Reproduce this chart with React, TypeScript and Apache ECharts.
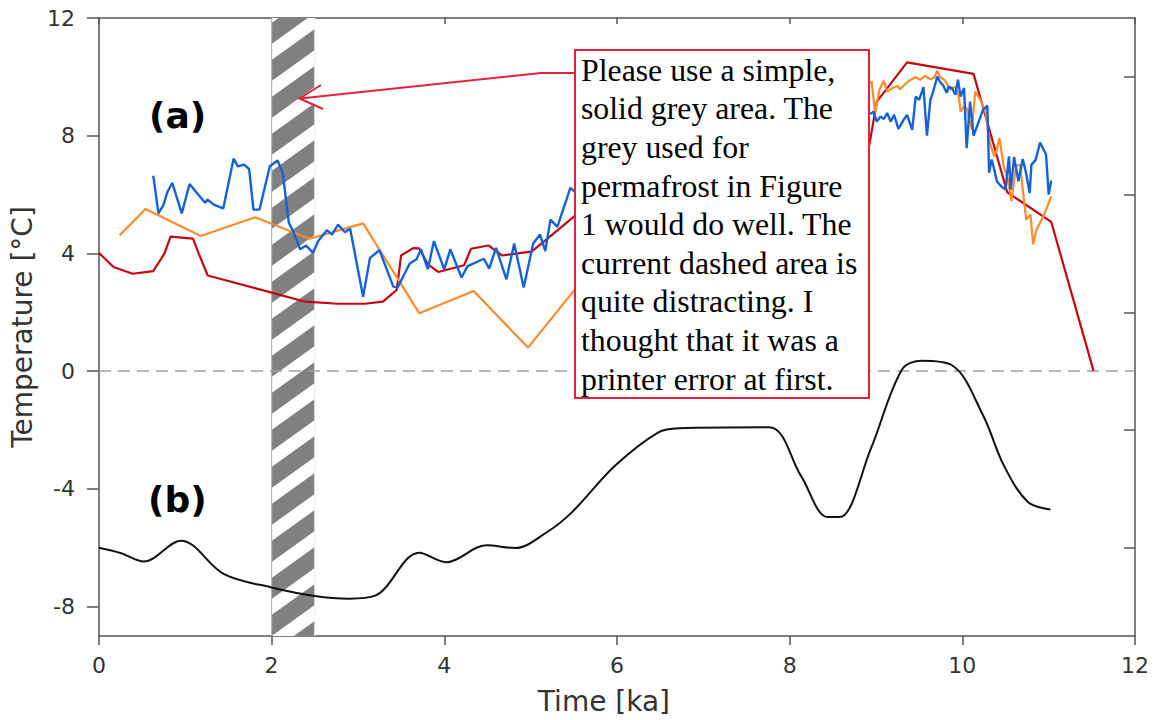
import React, { useEffect, useRef } from "react";
import * as echarts from "echarts";

// ---------------- data ----------------
const xMin = 0;
const xMax = 12;
const yMin = -9;
const yMax = 12;
const xTickValues = [0, 2, 4, 6, 8, 10, 12];
const yLeftTickValues = [-8, -4, 0, 4, 8, 12];
const yRightTickValues = [-6, -2, 2, 6, 10];
const bandStart = 2;
const bandEnd = 2.5;

const blueData: [number, number][] = [
  [0.63, 6.64], [0.69, 5.36], [0.75, 5.66], [0.79, 6.06], [0.85, 6.4], [0.96, 5.36],
  [1.05, 6.36], [1.15, 6.0], [1.23, 5.72], [1.26, 5.83], [1.33, 5.66], [1.44, 5.53],
  [1.56, 7.22], [1.61, 6.96], [1.68, 7.02], [1.74, 6.87], [1.79, 5.49], [1.86, 5.49],
  [1.98, 6.96], [2.07, 7.16], [2.13, 6.73], [2.2, 5.04], [2.25, 4.76], [2.33, 4.14],
  [2.4, 4.27], [2.48, 4.02], [2.54, 4.42], [2.64, 4.79], [2.7, 4.64], [2.77, 4.98],
  [2.85, 4.72], [2.91, 4.84], [3.06, 2.53], [3.14, 3.85], [3.25, 4.11], [3.41, 2.87],
  [3.46, 2.84], [3.6, 3.66], [3.68, 3.8], [3.73, 4.14], [3.81, 3.46], [3.88, 4.42],
  [4.0, 3.46], [4.07, 4.14], [4.2, 3.18], [4.27, 3.57], [4.46, 3.82], [4.52, 3.48],
  [4.6, 4.19], [4.72, 3.12], [4.81, 4.34], [4.92, 2.84], [5.03, 4.34], [5.11, 4.64],
  [5.17, 4.08], [5.23, 5.15], [5.31, 4.9], [5.46, 6.23], [5.53, 6.06],
  [8.95, 8.77], [8.97, 8.82], [9.01, 8.48], [9.05, 8.65], [9.09, 8.57], [9.13, 8.77],
  [9.17, 8.48], [9.21, 8.71], [9.26, 8.23], [9.32, 8.54], [9.36, 8.71], [9.42, 8.2],
  [9.46, 9.33], [9.5, 9.22], [9.55, 9.65], [9.59, 8.0], [9.63, 9.22], [9.66, 9.47],
  [9.71, 10.01], [9.74, 9.84], [9.78, 9.7], [9.82, 9.45], [9.84, 9.67], [9.88, 9.62],
  [9.92, 9.39], [9.95, 9.9], [9.98, 9.33], [10.02, 9.62], [10.05, 7.58], [10.09, 9.16],
  [10.13, 8.0], [10.19, 8.48], [10.24, 8.88], [10.29, 9.02], [10.31, 6.74], [10.34, 7.19],
  [10.37, 6.85], [10.4, 6.45], [10.45, 6.28], [10.5, 6.17], [10.54, 7.3], [10.56, 6.17],
  [10.6, 7.28], [10.65, 6.45], [10.7, 7.21], [10.74, 6.71], [10.78, 6.05], [10.8, 7.01],
  [10.85, 7.18], [10.9, 7.77], [10.97, 7.36], [11.0, 6.0], [11.03, 6.48],
];

const orangeData: [number, number][] = [
  [0.24, 4.62], [0.54, 5.51], [1.18, 4.59], [1.81, 5.23], [2.44, 4.5], [3.06, 5.02],
  [3.71, 1.97], [4.34, 2.72], [4.97, 0.8], [5.53, 2.84],
  [8.95, 9.84], [8.99, 8.77], [9.04, 9.56], [9.09, 9.87], [9.13, 9.5], [9.19, 9.62],
  [9.25, 9.69], [9.28, 9.58], [9.34, 9.76], [9.4, 9.9], [9.46, 9.99], [9.51, 9.9],
  [9.57, 10.03], [9.63, 9.92], [9.68, 9.99], [9.71, 10.21], [9.74, 10.01], [9.8, 9.87],
  [9.86, 9.56], [9.92, 9.67], [9.96, 9.33], [9.98, 8.82], [10.02, 8.99], [10.05, 8.94],
  [10.11, 8.2], [10.15, 9.5], [10.21, 9.22], [10.27, 8.77], [10.32, 7.75], [10.37, 7.3],
  [10.4, 7.53], [10.43, 7.92], [10.48, 6.96], [10.52, 6.62], [10.57, 5.77], [10.62, 6.96],
  [10.67, 7.02], [10.7, 6.17], [10.74, 5.15], [10.79, 5.32], [10.82, 4.31], [10.86, 4.81],
  [10.94, 5.27], [11.03, 5.94],
];

const redData: [number, number][] = [
  [0, 4.02], [0.17, 3.54], [0.39, 3.31], [0.63, 3.4], [0.76, 4.0], [0.83, 4.57],
  [1.09, 4.5], [1.16, 3.97], [1.26, 3.25], [2.0, 2.67], [2.39, 2.36], [2.77, 2.29],
  [3.08, 2.29], [3.29, 2.36], [3.45, 2.76], [3.5, 3.93], [3.64, 4.18], [3.71, 4.17],
  [3.81, 3.63], [3.93, 3.37], [4.23, 3.6], [4.31, 4.16], [4.51, 4.27], [4.67, 3.93],
  [5.01, 4.06], [5.16, 4.42], [5.53, 5.32], [8.9, 7.3], [9.01, 9.16], [9.36, 10.49],
  [10.13, 10.1], [10.52, 6.08], [11.03, 5.07], [11.52, 0.01],
];

const blackData: [number, number][] = [
  [0, -6.0], [0.25, -6.18], [0.52, -6.47], [0.95, -5.76], [1.45, -6.9], [2.0, -7.35],
  [2.5, -7.64], [2.9, -7.73], [3.2, -7.63], [3.71, -6.17], [4.02, -6.49], [4.49, -5.92],
  [4.82, -6.01], [5.2, -5.45], [5.48, -4.79], [5.98, -3.21], [6.48, -2.08], [6.72, -1.94],
  [7.76, -1.91], [8.13, -3.55], [8.44, -4.96], [8.58, -4.96], [8.94, -2.64], [9.3, 0.05],
  [9.53, 0.35], [9.88, 0.2], [10.24, -1.5], [10.48, -3.2], [10.76, -4.45], [11.02, -4.7],
];

const commentLines = [
  "Please use a simple,",
  "solid grey area. The",
  "grey used for",
  "permafrost in Figure",
  "1 would do well. The",
  "current dashed area is",
  "quite distracting. I",
  "thought that it was a",
  "printer error at first.",
];

// ---------------- helpers ----------------
type Pt = [number, number];
function clipHalf(pts: Pt[], inside: (p: Pt) => boolean, yLine: number): Pt[] {
  const out: Pt[] = [];
  for (let i = 0; i < pts.length; i++) {
    const a = pts[i];
    const b = pts[(i + 1) % pts.length];
    const ia = inside(a);
    const ib = inside(b);
    if (ia) out.push(a);
    if (ia !== ib) {
      const t = (yLine - a[1]) / (b[1] - a[1]);
      out.push([a[0] + t * (b[0] - a[0]), yLine]);
    }
  }
  return out;
}
function clipY(pts: Pt[], top: number, bottom: number): Pt[] {
  let r = clipHalf(pts, (p) => p[1] >= top, top);
  if (r.length < 3) return [];
  r = clipHalf(r, (p) => p[1] <= bottom, bottom);
  return r;
}

const AXIS_COLOR = "#555555";
const LABEL_COLOR = "#333333";
const SANS = "DejaVu Sans";

export default function App() {
  const ref = useRef<HTMLDivElement>(null);
  useEffect(() => {
    if (!ref.current) return;
    const chart = echarts.init(ref.current, undefined, { renderer: "svg" });

    const bandRender = (params: any, api: any) => {
      const p0 = api.coord([api.value(0), yMax]);
      const p1 = api.coord([api.value(1), yMin]);
      const x0 = p0[0];
      const top = p0[1];
      const x1 = p1[0];
      const bottom = p1[1];
      const w = x1 - x0;
      const slope = 0.72;
      const period = 37;
      const grey = 21;
      const rise = slope * w;
      const children: any[] = [
        { type: "rect", shape: { x: x0, y: top, width: w, height: bottom - top }, style: { fill: "#ffffff" } },
      ];
      const c0 = bottom - grey;
      for (let k = -3; k < 30; k++) {
        const c = c0 - k * period;
        const poly: Pt[] = [[x0, c], [x1, c - rise], [x1, c - rise + grey], [x0, c + grey]];
        const cl = clipY(poly, top, bottom);
        if (cl.length >= 3) {
          children.push({ type: "polygon", shape: { points: cl }, style: { fill: "#808080" } });
        }
      }
      children.push({
        type: "line",
        shape: { x1: x0, y1: top, x2: x0, y2: bottom },
        style: { stroke: "#b5b5b5", lineWidth: 1.2 },
      });
      children.push({
        type: "line",
        shape: { x1: x1, y1: top, x2: x1, y2: bottom },
        style: { stroke: "#ececec", lineWidth: 1 },
      });
      return { type: "group", children };
    };

    const option: any = {
      animation: false,
      backgroundColor: "#ffffff",
      grid: { left: 97, right: 21, top: 18, bottom: 84, containLabel: false },
      xAxis: [
        {
          type: "value",
          position: "bottom",
          min: xMin,
          max: xMax,
          interval: 2,
          axisLine: { show: true, onZero: false, lineStyle: { color: AXIS_COLOR, width: 1.5 } },
          axisTick: { show: true, inside: false, length: 9, lineStyle: { color: AXIS_COLOR, width: 1.5 } },
          axisLabel: {
            show: true,
            margin: 18,
            fontSize: 22,
            fontFamily: SANS,
            color: LABEL_COLOR,
            customValues: xTickValues,
          },
          splitLine: { show: false },
          name: "Time [ka]",
          nameLocation: "middle",
          nameGap: 51,
          nameTextStyle: { fontSize: 28, fontFamily: SANS, color: LABEL_COLOR, padding: [0, 26, 0, 0] },
        },
        {
          type: "value",
          position: "top",
          min: xMin,
          max: xMax,
          interval: 2,
          axisLine: { show: true, onZero: false, lineStyle: { color: AXIS_COLOR, width: 1.5 } },
          axisTick: { show: true, inside: true, length: 6, lineStyle: { color: AXIS_COLOR, width: 1.5 } },
          axisLabel: { show: false },
          splitLine: { show: false },
        },
      ],
      yAxis: [
        {
          type: "value",
          position: "left",
          min: yMin,
          max: yMax,
          axisLine: { show: true, onZero: false, lineStyle: { color: AXIS_COLOR, width: 1.5 } },
          axisTick: {
            show: true,
            inside: false,
            length: 12,
            customValues: yLeftTickValues,
            lineStyle: { color: AXIS_COLOR, width: 1.5 },
          },
          axisLabel: {
            show: true,
            margin: 24,
            fontSize: 22,
            fontFamily: SANS,
            color: LABEL_COLOR,
            customValues: yLeftTickValues,
          },
          splitLine: { show: false },
          name: "Temperature [°C]",
          nameLocation: "middle",
          nameGap: 52,
          nameTextStyle: { fontSize: 28, fontFamily: SANS, color: LABEL_COLOR },
        },
        {
          type: "value",
          position: "right",
          min: yMin,
          max: yMax,
          axisLine: { show: true, onZero: false, lineStyle: { color: AXIS_COLOR, width: 1.5 } },
          axisTick: {
            show: true,
            inside: true,
            length: 11,
            customValues: yRightTickValues,
            lineStyle: { color: AXIS_COLOR, width: 1.5 },
          },
          axisLabel: { show: false },
          splitLine: { show: false },
        },
      ],
      series: [
        {
          type: "custom",
          name: "band",
          xAxisIndex: 0,
          yAxisIndex: 0,
          renderItem: bandRender,
          data: [[bandStart, bandEnd]],
          encode: { x: [0, 1] },
          clip: true,
          silent: true,
          z: 1,
        },
        {
          type: "line",
          name: "b",
          data: blackData,
          showSymbol: false,
          smooth: 0.35,
          lineStyle: { color: "#111111", width: 2 },
          z: 3,
          markLine: {
            silent: true,
            symbol: ["none", "none"],
            label: { show: false },
            lineStyle: { type: [12, 7], color: "#a0a0a0", width: 1.5 },
            data: [{ yAxis: 0 }],
            z: 2,
          },
        },
        {
          type: "line",
          name: "red",
          data: redData,
          showSymbol: false,
          lineStyle: { color: "#c2080f", width: 2.2 },
          z: 3,
        },
        {
          type: "line",
          name: "orange",
          data: orangeData,
          showSymbol: false,
          lineStyle: { color: "#ff8a2b", width: 2.2 },
          z: 4,
        },
        {
          type: "line",
          name: "blue",
          data: blueData,
          showSymbol: false,
          lineStyle: { color: "#1462d8", width: 2.4 },
          z: 5,
        },
      ],
      graphic: [
        {
          type: "text",
          left: 149,
          top: 97,
          z: 50,
          style: { text: "(a)", font: `bold 36px "${SANS}"`, fill: "#000000" },
        },
        {
          type: "text",
          left: 148,
          top: 481,
          z: 50,
          style: { text: "(b)", font: `bold 36px "${SANS}"`, fill: "#000000" },
        },
        {
          type: "polyline",
          z: 100,
          shape: { points: [[575, 73], [541, 73], [300, 98.5]] },
          style: { stroke: "#e3223b", lineWidth: 2, fill: "none" },
        },
        {
          type: "polyline",
          z: 100,
          shape: { points: [[321, 85], [299.5, 98.5], [323, 109]] },
          style: { stroke: "#e3223b", lineWidth: 2, fill: "none" },
        },
        {
          type: "rect",
          z: 100,
          shape: { x: 575, y: 50, width: 294, height: 348 },
          style: { fill: "#ffffff", stroke: "#e3223b", lineWidth: 2 },
        },
        {
          type: "text",
          z: 101,
          x: 581,
          y: 51,
          style: {
            text: commentLines.join("\n"),
            font: '31.8px "Liberation Serif"',
            lineHeight: 38.6,
            fill: "#000000",
          },
        },
      ],
    };
    chart.setOption(option);
    return () => chart.dispose();
  }, []);
  return <div ref={ref} style={{ width: 1156, height: 720, position: "absolute", left: 0, top: 0 }} />;
}
